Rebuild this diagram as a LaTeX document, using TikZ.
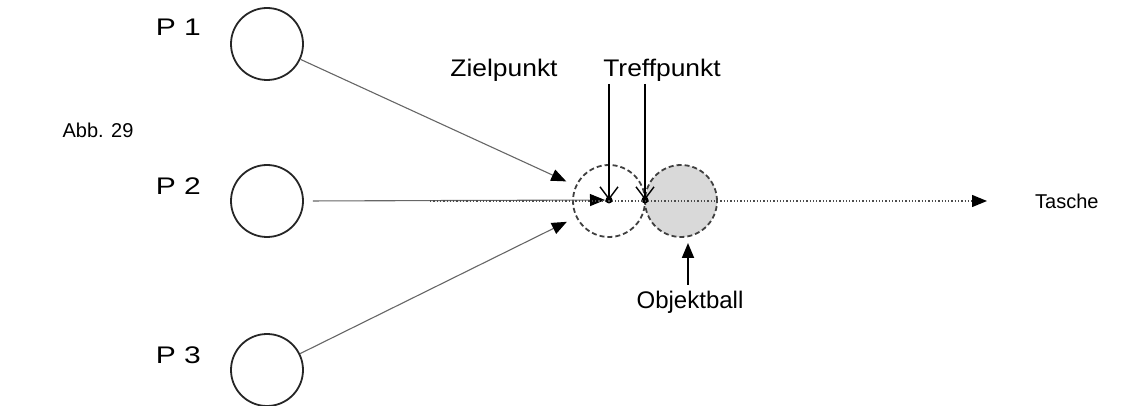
\documentclass[tikz,border=0pt]{standalone}
\usepackage{fontspec}
\setmainfont{Liberation Sans}
\usetikzlibrary{arrows.meta}
\definecolor{ballgray}{gray}{0.85}
% slightly widened lettering
\newcommand{\wide}[2]{\scalebox{#1}[1]{#2}}
\begin{document}
\begin{tikzpicture}[x=1pt,y=-1pt,
  label/.style={font=\fontsize{24}{26}\selectfont, inner sep=0pt},
  smalllabel/.style={font=\fontsize{20}{22}\selectfont, inner sep=0pt},
  ball/.style={circle, draw=black!85, line width=1.8pt, minimum size=72pt, inner sep=0pt},
  dashball/.style={circle, draw=black!75, dash pattern=on 5pt off 3pt, line width=1.8pt, minimum size=72pt, inner sep=0pt},
  cue/.style={draw=black!60, line width=1.1pt},
  tri/.style={-{Triangle[length=15pt,width=12pt,black]}},
  vee/.style={-{Straight Barb[length=12pt,width=18pt,line width=1.4pt]}},
  dot/.style={circle, fill=black, inner sep=0pt, minimum size=7pt}]
\useasboundingbox (0,0) rectangle (1128,406);

% cue ball positions
\node[ball] (p1) at (267,44) {};
\node[ball] (p2) at (267,201) {};
\node[ball] (p3) at (267,370) {};
\node[label, anchor=east] (lp1) at (201,27) {\wide{1.25}{P 1}};
\node[label, anchor=east] (lp2) at (201,186) {\wide{1.25}{P 2}};
\node[label, anchor=east] (lp3) at (201,355) {\wide{1.25}{P 3}};
\node[smalllabel] (abb) at (98,130) {Abb. 29};

% ghost ball and object ball
\node[dashball, fill=ballgray] (obj) at (681,201) {};
\node[dashball] (ghost) at (609,201) {};
\node[dot] (ziel) at (609,200) {};
\node[dot] (treff) at (645,200) {};

% pocket direction
\coordinate (dstart) at (430,201);
\coordinate (pocket) at (987,201);
\node[smalllabel, anchor=west] (tasche) at (1035,201) {Tasche};

% cue ball paths
\draw[cue, tri, shorten >=47pt] (p1) -- (ghost.center);
\draw[cue, tri, shorten >=47pt] (p3) -- (ghost.center);
\draw[cue, tri, shorten <=9pt, shorten >=4pt] (p2.east) -- (ziel.center);
\draw[black!70, line width=1.3pt, dotted, tri] (dstart) -- (pocket);

% labels with pointers
\node[label] (zl) at (504,70) {\wide{1.1}{Zielpunkt}};
\node[label] (tl) at (662,70) {\wide{1.1}{Treffpunkt}};
\node[label] (ol) at (690,302) {Objektball};
\coordinate (zt) at (609,84);
\coordinate (tt) at (645,84);
\coordinate (ob) at (688,285);
\coordinate (obtip) at (688,243);
\draw[line width=1.4pt, vee] (zt) -- (ziel.center);
\draw[line width=1.4pt, vee] (tt) -- (treff.center);
\draw[line width=1.8pt, tri] (ob) -- (obtip);
\end{tikzpicture}
\end{document}
